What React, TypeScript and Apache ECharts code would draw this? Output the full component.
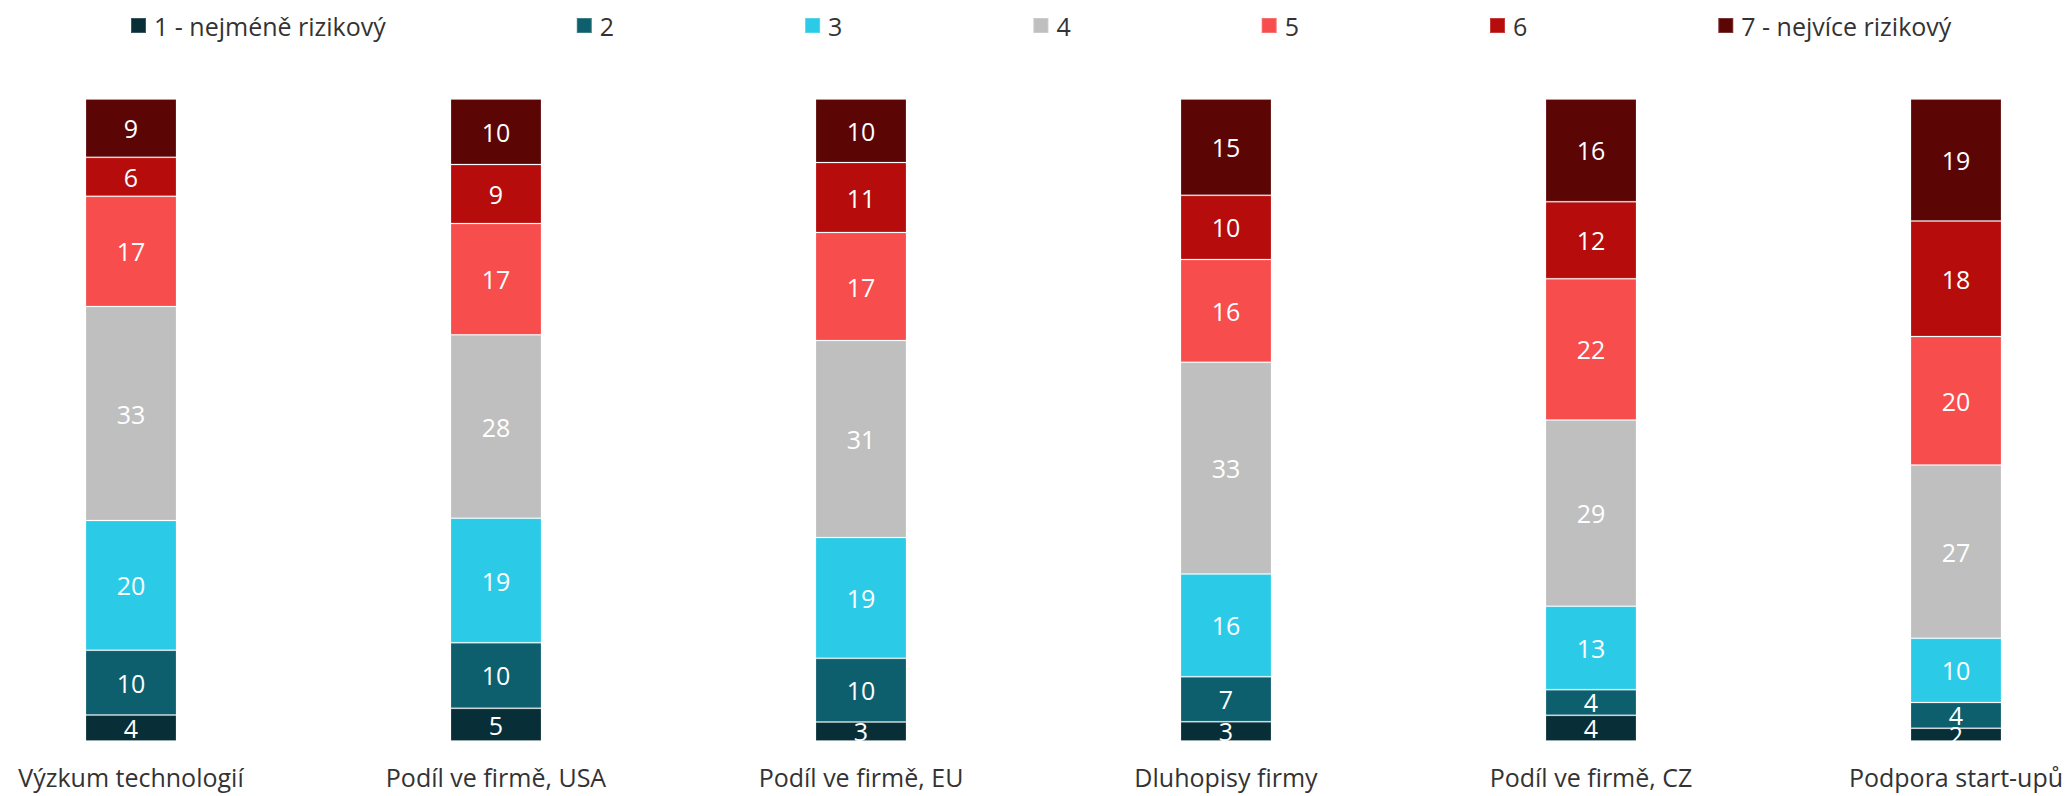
import React, { useEffect, useRef } from "react";
import * as echarts from "echarts";

const categories = [
  "Výzkum technologií",
  "Podíl ve firmě, USA",
  "Podíl ve firmě, EU",
  "Dluhopisy firmy",
  "Podíl ve firmě, CZ",
  "Podpora start-upů",
];

const seriesNames = [
  "1 - nejméně rizikový",
  "2",
  "3",
  "4",
  "5",
  "6",
  "7 - nejvíce rizikový",
];

const level1 = [4, 5, 3, 3, 4, 2];
const level2 = [10, 10, 10, 7, 4, 4];
const level3 = [20, 19, 19, 16, 13, 10];
const level4 = [33, 28, 31, 33, 29, 27];
const level5 = [17, 17, 17, 16, 22, 20];
const level6 = [6, 9, 11, 10, 12, 18];
const level7 = [9, 10, 10, 15, 16, 19];

const levels = [level1, level2, level3, level4, level5, level6, level7];

const colors = [
  "#082F37",
  "#0D5F6E",
  "#2BCBE8",
  "#BFBFBF",
  "#F74D4D",
  "#B60C0C",
  "#5B0505",
];

const FONT = "'Open Sans', 'Noto Sans', sans-serif";

export default function App() {
  const ref = useRef<HTMLDivElement>(null);

  useEffect(() => {
    document.body.style.margin = "0";
    if (!ref.current) return;
    const chart = echarts.init(ref.current, null, { renderer: "svg" });

    const totals = categories.map((_, i) =>
      levels.reduce((s, arr) => s + arr[i], 0)
    );

    const series = levels.map((arr, k) => ({
      name: seriesNames[k],
      type: "bar",
      stack: "total",
      barWidth: 91,
      clip: false,
      itemStyle: {
        color: colors[k],
        borderColor: "rgba(255,255,255,0.2)",
        borderWidth: 1,
      },
      label: {
        show: true,
        position: "inside",
        color: "#ffffff",
        fontSize: 25,
        fontFamily: FONT,
        formatter: (p: any) => String(arr[p.dataIndex]),
      },
      data: arr.map((v, i) => (v / totals[i]) * 100),
    }));

    chart.setOption({
      animation: false,
      legend: {
        left: 125,
        top: 8,
        itemWidth: 15,
        itemHeight: 15,
        itemGap: 190,
        icon: "rect",
        textStyle: {
          fontSize: 25,
          fontFamily: FONT,
          color: "#333333",
          padding: [0, 0, 0, 3],
        },
        data: seriesNames,
      },
      grid: {
        left: 131,
        right: 113,
        top: 99,
        bottom: 55,
        containLabel: false,
      },
      xAxis: {
        type: "category",
        data: categories,
        boundaryGap: false,
        axisLine: { show: false },
        axisTick: { show: false },
        axisLabel: {
          fontSize: 25,
          fontFamily: FONT,
          color: "#333333",
          margin: 23,
          interval: 0,
        },
      },
      yAxis: {
        type: "value",
        min: 0,
        max: 100,
        show: false,
        splitLine: { show: false },
      },
      series,
    });

    return () => chart.dispose();
  }, []);

  return <div ref={ref} style={{ width: 2069, height: 796 }} />;
}
